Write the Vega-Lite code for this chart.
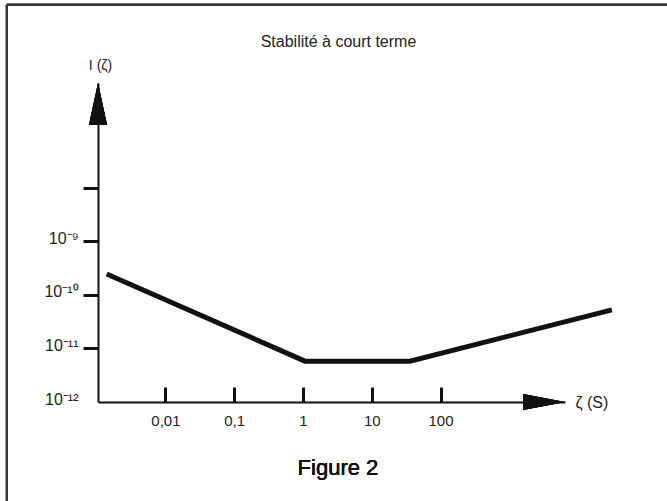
{
  "$schema": "https://vega.github.io/schema/vega-lite/v6.json",
  "width": 467,
  "height": 319,
  "autosize": {"type": "none"},
  "padding": {"left": 98, "top": 83, "right": 102, "bottom": 99},
  "background": "white",
  "config": {"view": {"stroke": null}, "font": "Liberation Sans"},
  "title": {"text": "Stabilité à court terme", "fontSize": 16, "fontWeight": "normal", "color": "#222", "anchor": "middle", "dx": 7, "offset": -46, "font": "Liberation Sans"},
  "data": {"values": [
    {"tau": 0.0014, "sigma": 2.47e-10},
    {"tau": 1.07, "sigma": 5.8e-12},
    {"tau": 36, "sigma": 5.8e-12},
    {"tau": 31000, "sigma": 5.25e-11}
  ]},
  "layer": [
    {
      "mark": {"type": "line", "color": "#111", "strokeWidth": 5, "strokeJoin": "miter", "clip": false},
      "encoding": {
        "x": {
          "field": "tau", "type": "quantitative",
          "scale": {"type": "log", "domain": [0.001047, 6457]},
          "axis": {
            "values": [0.01, 0.1, 1, 10, 100],
            "labelExpr": "datum.value == 0.01 ? '0,01' : datum.value == 0.1 ? '0,1' : format(datum.value, 'd')",
            "grid": false,
            "domainColor": "#111", "domainWidth": 2,
            "tickColor": "#111", "tickWidth": 3, "tickSize": -15,
            "labelPadding": 26, "labelFontSize": 15, "labelColor": "#222", "labelFont": "Liberation Sans",
            "title": "ζ (S)", "titleFont": "Liberation Sans", "titleFontSize": 16, "titleFontWeight": "normal", "titleColor": "#222",
            "titleX": 477, "titleY": 0, "titleAlign": "left", "titleBaseline": "middle", "titleAngle": 0
          }
        },
        "y": {
          "field": "sigma", "type": "quantitative",
          "scale": {"type": "log", "domain": [1e-12, 9.1e-7]},
          "axis": {
            "values": [1e-12, 1e-11, 1e-10, 1e-9, 1e-8],
            "labelExpr": "round(log(datum.value)/LN10) == -9 ? '10⁻⁹' : round(log(datum.value)/LN10) == -10 ? '10⁻¹⁰' : round(log(datum.value)/LN10) == -11 ? '10⁻¹¹' : round(log(datum.value)/LN10) == -12 ? '10⁻¹²' : ''",
            "grid": false,
            "domainColor": "#111", "domainWidth": 2,
            "tickColor": "#111", "tickWidth": 3, "tickSize": 15,
            "tickOpacity": {"condition": {"test": "datum.value < 5e-12", "value": 0}, "value": 1},
            "labelPadding": 5, "labelFontSize": 16, "labelColor": "#222", "labelFont": "Liberation Sans",
            "labelBaseline": "alphabetic", "labelOffset": 2,
            "title": "I (ζ)", "titleFont": "Liberation Sans", "titleFontSize": 14, "titleFontWeight": "normal", "titleColor": "#222",
            "titleX": 2, "titleY": -18, "titleAlign": "center", "titleBaseline": "middle", "titleAngle": 0
          }
        }
      }
    },
    {
      "mark": {"type": "rule", "stroke": "#333", "strokeWidth": 2},
      "encoding": {
        "x": {"datum": 4.95e-5, "type": "quantitative", "scale": {"type": "log", "domain": [0.001047, 6457]}},
        "x2": {"datum": 300000},
        "y": {"datum": 2.64e-5, "type": "quantitative", "scale": {"type": "log", "domain": [1e-12, 9.1e-7]}}
      }
    },
    {
      "mark": {"type": "rule", "stroke": "#333", "strokeWidth": 2},
      "encoding": {
        "x": {"datum": 4.95e-5, "type": "quantitative", "scale": {"type": "log", "domain": [0.001047, 6457]}},
        "y": {"datum": 2.64e-5, "type": "quantitative", "scale": {"type": "log", "domain": [1e-12, 9.1e-7]}},
        "y2": {"datum": 1e-14}
      }
    },
    {
      "mark": {"type": "point", "shape": "M0,0 L0.43,2 L-0.43,2 Z", "size": 1764, "filled": true, "color": "#111", "opacity": 1},
      "encoding": {
        "x": {"datum": 0.001047, "type": "quantitative", "scale": {"type": "log", "domain": [0.001047, 6457]}},
        "y": {"datum": 9.1e-7, "type": "quantitative", "scale": {"type": "log", "domain": [1e-12, 9.1e-7]}}
      }
    },
    {
      "mark": {"type": "point", "shape": "M0,0 L-2,-0.38 L-2,0.38 Z", "size": 1764, "filled": true, "color": "#111", "opacity": 1},
      "encoding": {
        "x": {"datum": 6457, "type": "quantitative", "scale": {"type": "log", "domain": [0.001047, 6457]}},
        "y": {"datum": 1e-12, "type": "quantitative", "scale": {"type": "log", "domain": [1e-12, 9.1e-7]}}
      }
    },
    {
      "mark": {"type": "text", "fontSize": 22, "color": "#111", "align": "center", "baseline": "middle", "font": "Liberation Sans"},
      "encoding": {
        "x": {"datum": 3.23, "type": "quantitative", "scale": {"type": "log", "domain": [0.001047, 6457]}},
        "y": {"datum": 5.83e-14, "type": "quantitative", "scale": {"type": "log", "domain": [1e-12, 9.1e-7]}},
        "text": {"value": "Figure 2"}
      }
    }
  ]
}
